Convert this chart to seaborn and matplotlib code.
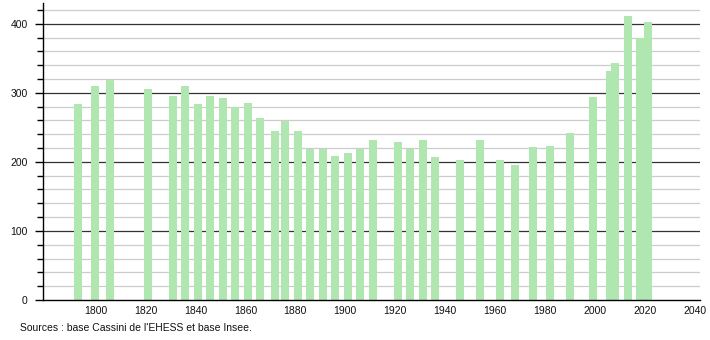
import matplotlib
matplotlib.use("Agg")
import matplotlib.pyplot as plt
import seaborn as sns
import pandas as pd

years = [1793, 1800, 1806, 1821, 1831, 1836, 1841, 1846, 1851, 1856, 1861, 1866,
         1872, 1876, 1881, 1886, 1891, 1896, 1901, 1906, 1911, 1921, 1926, 1931,
         1936, 1946, 1954, 1962, 1968, 1975, 1982, 1990, 1999, 2006, 2008, 2013,
         2018, 2021]
population = [284, 310, 319, 306, 296, 310, 284, 296, 293, 279, 285, 264,
              244, 259, 244, 218, 218, 208, 213, 218, 232, 229, 218, 232,
              207, 203, 232, 203, 196, 222, 223, 242, 294, 331, 343, 411,
              379, 402]
x_ticks = [1800, 1820, 1840, 1860, 1880, 1900, 1920, 1940, 1960, 1980, 2000, 2020, 2040]
y_major = [0, 100, 200, 300, 400]
source_text = "Sources : base Cassini de l'EHESS et base Insee."

sns.set_style("white")
plt.rcParams['font.family'] = ['Liberation Sans', 'DejaVu Sans']
plt.rcParams['text.color'] = '#111111'
plt.rcParams['xtick.color'] = '#111111'
plt.rcParams['ytick.color'] = '#111111'

df = pd.DataFrame({"year": years, "pop": population})

fig = plt.figure(figsize=(7.1, 3.4), dpi=100)
ax = fig.add_axes([43 / 710, 40 / 340, (700 - 43) / 710, (337 - 40) / 340])

# grid
for v in range(20, 440, 20):
    if v % 100 == 0:
        ax.axhline(v, color="#333333", lw=0.9, zorder=1)
    else:
        ax.axhline(v, color="#cccccc", lw=0.9, zorder=1)

sns.barplot(data=df, x="year", y="pop", native_scale=True, width=1.6,
            color="#b0e6b0", saturation=1, edgecolor="none", ax=ax, zorder=2)

ax.set_xlim(1779, 2042)
ax.set_ylim(0, 430)
ax.set_xticks(x_ticks)
ax.set_xticklabels([str(t) for t in x_ticks])
ax.set_yticks(y_major)
ax.set_yticks(range(20, 440, 20), minor=True)
ax.tick_params(axis="x", length=0, labelsize=7.5, pad=4)
ax.tick_params(axis="y", which="major", left=True, length=6, width=1, labelsize=7.5, pad=5, color="black")
ax.tick_params(axis="y", which="minor", left=True, length=4, width=1, color="black")
ax.set_xlabel("")
ax.set_ylabel("")
for s in ["top", "right"]:
    ax.spines[s].set_visible(False)
ax.spines["left"].set_color("black")
ax.spines["bottom"].set_color("black")
ax.spines["left"].set_linewidth(1)
ax.spines["bottom"].set_linewidth(1)

fig.text(20 / 710, 1 - 328 / 340, source_text, fontsize=7.5, va="center", ha="left")

fig.savefig("out.png", dpi=100)
